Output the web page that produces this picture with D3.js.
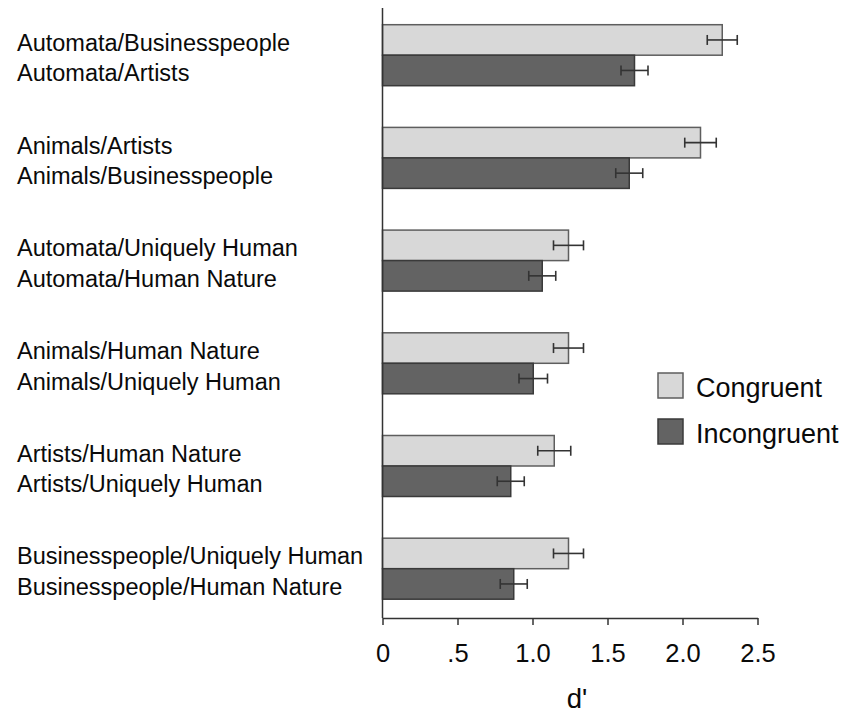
<!DOCTYPE html>
<html>
<head>
<meta charset="utf-8">
<script src="https://cdn.jsdelivr.net/npm/d3@7"></script>
<style>
  html, body { margin: 0; padding: 0; background: #fff; }
  svg { display: block; font-family: "Liberation Sans", Arial, sans-serif; }
</style>
</head>
<body>
<svg id="chart" width="844" height="713"></svg>
<script>
// Pairings: the first label belongs to the congruent bar, the second to the incongruent bar
const groups = ["g1", "g2", "g3", "g4", "g5", "g6"];
const congruentLabels = [
  "Automata/Businesspeople",
  "Animals/Artists",
  "Automata/Uniquely Human",
  "Animals/Human Nature",
  "Artists/Human Nature",
  "Businesspeople/Uniquely Human"
];
const incongruentLabels = [
  "Automata/Artists",
  "Animals/Businesspeople",
  "Automata/Human Nature",
  "Animals/Uniquely Human",
  "Artists/Uniquely Human",
  "Businesspeople/Human Nature"
];

// d' means and standard errors
const congruent      = [2.265, 2.12, 1.24, 1.24, 1.145, 1.24];
const congruentErr   = [0.10, 0.105, 0.10, 0.10, 0.11, 0.10];
const incongruent    = [1.68, 1.645, 1.065, 1.005, 0.855, 0.875];
const incongruentErr = [0.09, 0.09, 0.09, 0.095, 0.09, 0.09];

const tickValues = [0, 0.5, 1.0, 1.5, 2.0, 2.5];
const tickLabels = ["0", ".5", "1.0", "1.5", "2.0", "2.5"];

const seriesNames = ["Congruent", "Incongruent"];
const seriesFill = ["#d8d8d8", "#636363"];
const seriesStroke = ["#5e5e5e", "#3a3a3a"];

const svg = d3.select("#chart");

const x = d3.scaleLinear().domain([0, 2.5]).range([382.5, 757.5]);
const y = d3.scaleBand().domain(groups).range([24.7, 599.2]).paddingInner(0.406).paddingOuter(0);
const sub = d3.scaleBand().domain(seriesNames).range([0, y.bandwidth()]);
const axisY = 618;

const rows = [];
groups.forEach((g, i) => {
  rows.push({ g, s: 0, v: congruent[i], e: congruentErr[i], label: congruentLabels[i] });
  rows.push({ g, s: 1, v: incongruent[i], e: incongruentErr[i], label: incongruentLabels[i] });
});
const rowY = d => y(d.g) + sub(seriesNames[d.s]);
const rowMid = d => rowY(d) + sub.bandwidth() / 2;

// bars
svg.append("g").selectAll("rect").data(rows).join("rect")
  .attr("x", x(0))
  .attr("y", rowY)
  .attr("width", d => x(d.v) - x(0))
  .attr("height", sub.bandwidth())
  .attr("fill", d => seriesFill[d.s])
  .attr("stroke", d => seriesStroke[d.s])
  .attr("stroke-width", 1.5);

// error bars
const eb = svg.append("g").attr("stroke", "#333").attr("stroke-width", 1.6).attr("fill", "none");
eb.selectAll("line.h").data(rows).join("line").attr("class", "h")
  .attr("x1", d => x(d.v - d.e)).attr("x2", d => x(d.v + d.e))
  .attr("y1", rowMid).attr("y2", rowMid);
eb.selectAll("line.lo").data(rows).join("line").attr("class", "lo")
  .attr("x1", d => x(d.v - d.e)).attr("x2", d => x(d.v - d.e))
  .attr("y1", d => rowMid(d) - 5).attr("y2", d => rowMid(d) + 5);
eb.selectAll("line.hi").data(rows).join("line").attr("class", "hi")
  .attr("x1", d => x(d.v + d.e)).attr("x2", d => x(d.v + d.e))
  .attr("y1", d => rowMid(d) - 5).attr("y2", d => rowMid(d) + 5);

// row labels
svg.append("g").selectAll("text").data(rows).join("text")
  .attr("x", 17)
  .attr("y", d => rowMid(d) + 11)
  .attr("font-size", 23.5)
  .attr("fill", "#0a0a0a")
  .text(d => d.label);

// x axis
const xAxis = d3.axisBottom(x)
  .tickValues(tickValues)
  .tickFormat((d, i) => tickLabels[i])
  .tickSize(7)
  .tickSizeOuter(0)
  .tickPadding(19);
const gx = svg.append("g").attr("transform", `translate(0,${axisY})`).call(xAxis);
gx.select(".domain").attr("stroke", "#333").attr("stroke-width", 1.5);
gx.selectAll(".tick line").attr("stroke", "#333").attr("stroke-width", 1.5);
gx.selectAll(".tick text")
  .attr("font-size", 25.5)
  .attr("font-family", "\"Liberation Sans\", Arial, sans-serif")
  .attr("fill", "#0a0a0a");

// y axis line
svg.append("line")
  .attr("x1", x(0)).attr("x2", x(0))
  .attr("y1", 8).attr("y2", axisY)
  .attr("stroke", "#333").attr("stroke-width", 1.5);

// x axis title
svg.append("text")
  .attr("x", 577).attr("y", 708)
  .attr("text-anchor", "middle")
  .attr("font-size", 27.5)
  .attr("fill", "#0a0a0a")
  .text("d'");

// legend
const legend = svg.append("g").attr("transform", "translate(658,373)");
seriesNames.forEach((name, i) => {
  const row = legend.append("g").attr("transform", `translate(0,${i * 46})`);
  row.append("rect")
    .attr("width", 25).attr("height", 25)
    .attr("fill", seriesFill[i])
    .attr("stroke", seriesStroke[i])
    .attr("stroke-width", 1.5);
  row.append("text")
    .attr("x", 38).attr("y", 23.5)
    .attr("font-size", 27)
    .attr("fill", "#0a0a0a")
    .text(name);
});
</script>
</body>
</html>
